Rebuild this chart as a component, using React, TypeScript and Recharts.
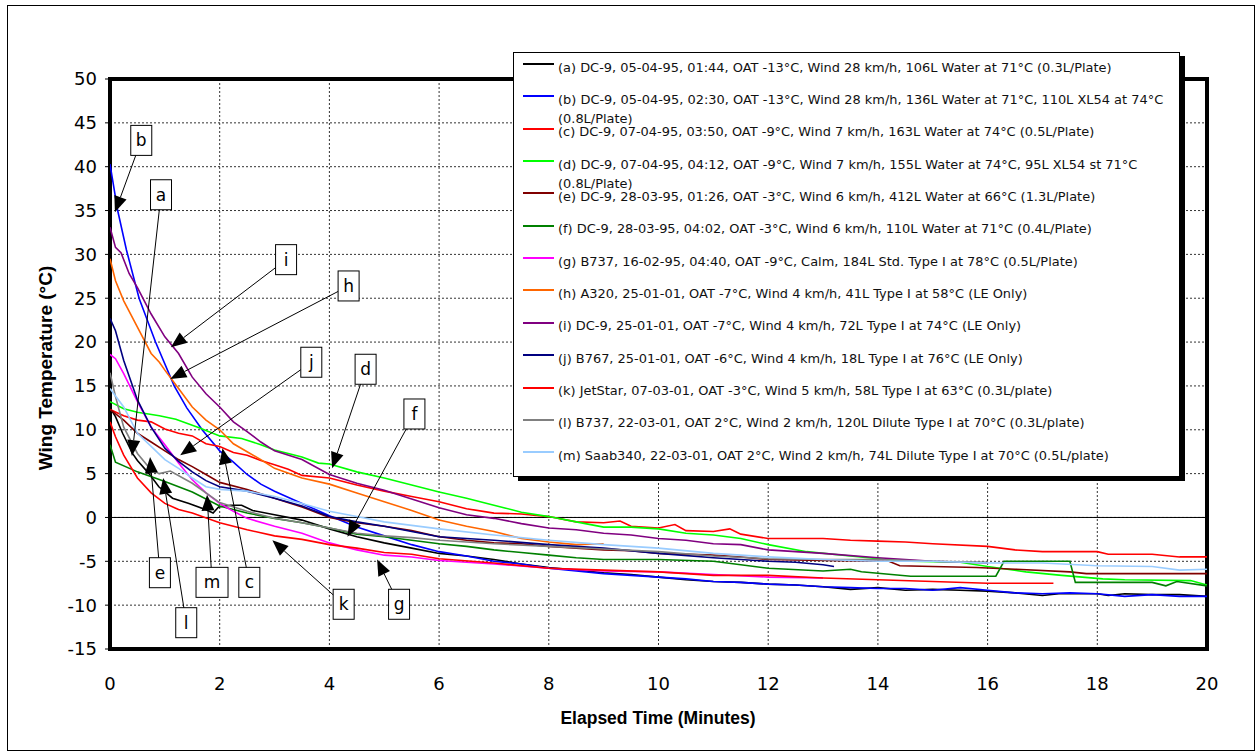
import React from 'react';
import { LineChart, Line, XAxis, YAxis, CartesianGrid, ReferenceLine, ReferenceArea } from 'recharts';

type Pt = [number, number];

// elapsed minutes, wing temperature (°C)
const seriesA: Pt[] = [
  [0, 12.5], [0.1, 11.5], [0.23, 9.6], [0.41, 7.3], [0.5, 6.5], [0.71, 5.0], [0.89, 3.5], [1.14, 2.2],
  [1.44, 1.6], [1.74, 0.9], [1.88, 0.5], [1.98, 1.2], [2.2, 1.4], [2.4, 1.4], [2.6, 0.8], [3.0, 0.3],
  [3.5, -0.3], [4.0, -1.3], [4.5, -2.2], [5.0, -2.9], [5.5, -3.5], [6.0, -4.1], [6.5, -4.4], [7.0, -4.8],
  [7.5, -5.3], [8.0, -5.7], [8.5, -6.0], [9.0, -6.3], [9.5, -6.5], [10.0, -6.8], [10.5, -7.1], [11.0, -7.3],
  [11.5, -7.4], [12.0, -7.6], [12.5, -7.7], [13.0, -7.9], [13.5, -8.2], [14.0, -8.0], [14.5, -8.3],
  [15.0, -8.2], [15.5, -8.3], [16.0, -8.4], [16.5, -8.6], [17.0, -8.9], [17.3, -8.7], [18.0, -8.7],
  [18.2, -8.9], [18.5, -8.7], [19.0, -8.8], [19.5, -8.8], [20.0, -9.0],
];
const seriesB: Pt[] = [
  [0, 40.3], [0.14, 35.0], [0.3, 30.5], [0.53, 25.0], [0.83, 20.0], [1.17, 15.0], [1.4, 12.5], [1.68, 10.0],
  [2.0, 7.6], [2.25, 6.3], [2.5, 4.9], [2.75, 3.8], [3.0, 3.0], [3.5, 1.6], [4.0, 0.2], [4.5, -1.1],
  [5.0, -2.1], [5.5, -3.1], [6.0, -3.9], [6.5, -4.4], [7.0, -5.0], [7.5, -5.3], [8.0, -5.8], [8.5, -6.1],
  [9.0, -6.4], [9.5, -6.6], [10.0, -6.8], [10.5, -7.0], [11.0, -7.3], [11.5, -7.4], [12.0, -7.6],
  [12.5, -7.7], [13.0, -7.9], [13.5, -8.0], [14.0, -8.1], [14.5, -8.1], [15.0, -8.3], [15.5, -8.0],
  [16.0, -8.3], [16.5, -8.6], [17.0, -8.7], [17.5, -8.6], [18.0, -8.7], [18.5, -9.0], [19.0, -8.8],
  [19.5, -9.0], [20.0, -9.0],
];
const seriesC: Pt[] = [
  [0, 12.3], [0.25, 11.6], [0.5, 11.1], [0.75, 10.9], [1.0, 10.1], [1.25, 9.6], [1.5, 9.3], [1.75, 8.4],
  [2.0, 8.1], [2.25, 7.4], [2.5, 7.1], [2.75, 6.5], [3.0, 6.0], [3.25, 5.5], [3.5, 4.8], [4.0, 4.5],
  [4.5, 3.7], [5.0, 3.0], [5.5, 2.4], [6.0, 1.8], [6.5, 1.0], [7.0, 0.5], [7.5, 0.4], [8.0, 0.1],
  [8.5, -0.5], [9.0, -0.6], [9.3, -0.4], [9.5, -1.0], [10.0, -1.2], [10.3, -0.8], [10.5, -1.5],
  [11.0, -1.6], [11.3, -1.3], [11.5, -1.9], [12.0, -2.4], [13.0, -2.4], [13.5, -2.6], [14.0, -2.7],
  [14.5, -2.8], [15.0, -3.0], [16.0, -3.3], [16.5, -3.7], [17.0, -3.9], [18.0, -3.9], [18.2, -4.2],
  [19.0, -4.2], [19.5, -4.5], [20.0, -4.5],
];
const seriesD: Pt[] = [
  [0, 13.2], [0.25, 12.4], [0.5, 12.0], [0.9, 11.6], [1.2, 11.2], [1.6, 10.3], [2.0, 9.3], [2.4, 9.0],
  [2.75, 8.3], [3.0, 7.7], [3.5, 6.9], [3.8, 6.2], [4.0, 6.1], [4.5, 5.2], [5.0, 4.5], [5.5, 3.7],
  [6.0, 2.9], [6.5, 2.2], [7.0, 1.4], [7.5, 0.6], [8.0, 0.1], [8.5, -0.5], [9.0, -1.1], [9.5, -1.1],
  [10.0, -1.3], [10.5, -1.8], [11.0, -2.0], [11.5, -2.4], [12.0, -3.1], [12.7, -3.9], [13.5, -4.4],
  [14.0, -4.7], [14.6, -5.0], [15.5, -5.1], [16.0, -5.6], [16.7, -6.2], [17.35, -6.6], [18.1, -7.0],
  [18.5, -7.1], [19.7, -7.2], [20.0, -7.7],
];
const seriesE: Pt[] = [
  [0, 12.3], [0.25, 11.1], [0.5, 9.6], [0.75, 8.6], [1.0, 7.6], [1.25, 6.6], [1.5, 5.8], [1.75, 4.9],
  [2.0, 4.0], [2.5, 3.2], [3.0, 2.2], [3.5, 1.2], [4.0, 0.0], [4.5, -0.6], [5.0, -1.0], [5.5, -1.5],
  [6.0, -2.2], [6.5, -2.6], [7.0, -2.9], [7.5, -3.0], [8.0, -3.3], [8.5, -3.5], [9.0, -3.7], [9.5, -3.8],
  [10.0, -4.1], [11.0, -4.3], [11.5, -4.5], [12.0, -4.8], [13.0, -4.9], [14.2, -5.0], [14.4, -5.5],
  [15.8, -5.7], [16.5, -5.9], [17.5, -6.2], [17.8, -6.4], [20.0, -6.4],
];
const seriesF: Pt[] = [
  [0, 8.3], [0.1, 6.3], [0.5, 5.2], [1.0, 4.1], [1.5, 2.9], [2.0, 1.3], [2.5, 0.5], [3.0, -0.1],
  [3.5, -0.6], [4.0, -1.2], [4.5, -1.9], [5.0, -2.2], [5.5, -2.6], [6.0, -3.0], [6.5, -3.3], [7.0, -3.7],
  [7.5, -4.0], [8.0, -4.3], [8.5, -4.6], [9.0, -4.8], [10.0, -4.8], [11.0, -5.0], [11.5, -5.4],
  [12.0, -5.8], [13.0, -6.1], [13.5, -5.9], [13.7, -6.2], [14.6, -6.7], [16.15, -6.7], [16.3, -5.0],
  [17.5, -5.0], [17.6, -7.4], [19.0, -7.4], [19.25, -7.8], [19.45, -7.3], [20.0, -7.8],
];
const seriesG: Pt[] = [
  [0, 18.6], [0.1, 18.1], [0.25, 16.4], [0.5, 13.2], [0.75, 10.3], [1.0, 8.3], [1.25, 6.2], [1.5, 4.3],
  [1.75, 2.8], [2.0, 1.6], [2.25, 0.7], [2.5, -0.1], [3.0, -1.0], [3.5, -1.8], [4.0, -2.9], [4.5, -3.7],
  [5.0, -4.3], [5.5, -4.5], [6.0, -4.9], [7.0, -5.3], [8.0, -5.8], [9.0, -6.1], [10.0, -6.2],
  [11.0, -6.5], [12.0, -6.8], [13.0, -6.9],
];
const seriesH: Pt[] = [
  [0, 29.5], [0.1, 27.0], [0.25, 24.7], [0.5, 21.7], [0.75, 18.7], [0.9, 17.7], [1.0, 16.8], [1.25, 14.7],
  [1.5, 12.6], [1.75, 11.1], [2.0, 10.0], [2.25, 8.4], [2.5, 7.5], [2.75, 6.6], [3.0, 5.6], [3.5, 4.5],
  [4.0, 3.8], [4.5, 2.8], [5.0, 1.8], [5.5, 0.8], [6.0, -0.3], [6.5, -1.0], [7.0, -1.6], [7.5, -2.4],
  [8.0, -2.8], [8.5, -3.1], [9.0, -3.0],
];
const seriesI: Pt[] = [
  [0, 33.1], [0.1, 30.8], [0.2, 30.2], [0.35, 27.8], [0.5, 26.2], [0.75, 23.2], [1.0, 20.6], [1.25, 18.7],
  [1.5, 16.0], [1.75, 14.1], [2.0, 12.6], [2.25, 10.9], [2.5, 9.8], [2.75, 8.6], [3.0, 7.6], [3.5, 6.6],
  [4.0, 4.9], [4.5, 3.9], [5.0, 3.1], [5.5, 2.1], [6.0, 1.1], [6.5, 0.3], [7.0, -0.1], [7.5, -0.7],
  [8.0, -1.2], [8.5, -1.4], [9.0, -1.8], [9.5, -2.0], [10.0, -2.4], [10.5, -2.6], [11.0, -3.0],
  [11.5, -3.1], [12.0, -3.7], [12.5, -3.9], [13.0, -4.1], [14.0, -4.6], [15.0, -5.0], [16.0, -5.2],
];
const seriesJ: Pt[] = [
  [0, 22.7], [0.1, 21.3], [0.25, 17.9], [0.5, 13.4], [0.75, 10.3], [1.0, 7.9], [1.25, 6.4], [1.5, 5.2],
  [1.75, 4.2], [2.0, 3.5], [2.5, 3.0], [3.0, 2.2], [3.5, 1.3], [4.0, 0.1], [4.5, -0.5], [5.0, -1.0],
  [5.5, -1.6], [6.0, -2.2], [7.0, -2.6], [8.0, -3.1], [9.0, -3.5], [10.0, -4.1], [11.0, -4.6],
  [12.0, -5.0], [12.5, -5.1], [13.0, -5.4], [13.2, -5.6],
];
const seriesK: Pt[] = [
  [0, 10.9], [0.1, 9.2], [0.25, 7.1], [0.5, 4.5], [0.75, 2.8], [1.0, 1.6], [1.25, 0.9], [1.5, 0.5],
  [2.0, -0.6], [2.5, -1.4], [3.0, -2.1], [3.5, -2.5], [4.0, -3.1], [4.5, -3.5], [5.0, -4.0], [5.5, -4.2],
  [6.0, -4.7], [7.0, -5.2], [8.0, -5.8], [9.0, -6.0], [10.0, -6.2], [11.0, -6.6], [12.0, -6.6],
  [13.0, -6.9], [14.0, -7.1], [15.0, -7.3], [16.0, -7.5], [17.2, -7.5],
];
const seriesL: Pt[] = [
  [0, 16.5], [0.1, 13.8], [0.25, 10.3], [0.5, 7.3], [0.75, 5.4], [0.9, 5.0], [1.1, 5.3], [1.5, 3.9],
  [2.0, 1.7], [2.5, 0.7], [3.0, -0.1], [3.5, -0.6], [4.0, -1.2], [4.5, -1.8], [5.0, -2.1], [5.5, -2.3],
  [6.0, -2.6], [7.0, -3.0], [8.0, -3.3], [9.0, -3.6], [10.0, -3.9], [11.0, -4.4], [12.0, -4.7],
  [13.0, -4.8], [14.0, -4.8], [15.0, -5.0], [16.0, -5.1],
];
const seriesM: Pt[] = [
  [0, 14.7], [0.25, 12.6], [0.5, 9.6], [0.75, 8.1], [1.0, 6.6], [1.25, 5.6], [1.5, 4.5], [1.75, 3.5],
  [2.0, 3.2], [2.5, 3.0], [3.0, 2.4], [3.5, 1.6], [4.0, 0.7], [4.5, 0.1], [5.0, -0.5], [5.5, -0.9],
  [6.0, -1.3], [7.0, -2.0], [8.0, -2.6], [9.0, -3.1], [10.0, -3.5], [11.0, -4.1], [12.0, -4.5],
  [13.0, -4.8], [14.0, -5.0], [15.0, -5.0], [16.0, -5.2], [17.0, -5.2], [18.0, -5.5], [19.0, -5.6],
  [19.5, -6.0], [20.0, -5.9],
];

const seriesData = [seriesA, seriesB, seriesC, seriesD, seriesE, seriesF, seriesG, seriesH, seriesI, seriesJ, seriesK, seriesL, seriesM];
const seriesColors = ['#000000', '#0000FF', '#FF0000', '#00FF00', '#800000', '#008000', '#FF00FF', '#FF6600', '#800080', '#000080', '#FF0000', '#808080', '#99CCFF'];
const legendLabels = [
  '(a) DC-9, 05-04-95, 01:44, OAT -13°C, Wind 28 km/h, 106L Water at 71°C (0.3L/Plate)',
  '(b) DC-9, 05-04-95, 02:30, OAT -13°C, Wind 28 km/h, 136L Water at 71°C, 110L XL54 at 74°C\n(0.8L/Plate)',
  '(c) DC-9, 07-04-95, 03:50, OAT -9°C, Wind 7 km/h, 163L Water at 74°C (0.5L/Plate)',
  '(d) DC-9, 07-04-95, 04:12, OAT -9°C, Wind 7 km/h, 155L Water at 74°C, 95L XL54 st 71°C\n(0.8L/Plate)',
  '(e) DC-9, 28-03-95, 01:26, OAT -3°C, Wind 6 km/h, 412L Water at 66°C (1.3L/Plate)',
  '(f) DC-9, 28-03-95, 04:02, OAT -3°C, Wind 6 km/h, 110L Water at 71°C (0.4L/Plate)',
  '(g) B737, 16-02-95, 04:40, OAT -9°C, Calm, 184L Std. Type I at 78°C (0.5L/Plate)',
  '(h) A320, 25-01-01, OAT -7°C, Wind 4 km/h, 41L Type I at 58°C (LE Only)',
  '(i) DC-9, 25-01-01, OAT -7°C, Wind 4 km/h, 72L Type I at 74°C (LE Only)',
  '(j) B767, 25-01-01, OAT -6°C, Wind 4 km/h, 18L Type I at 76°C (LE Only)',
  '(k) JetStar, 07-03-01, OAT -3°C, Wind 5 km/h, 58L Type I at 63°C (0.3L/plate)',
  '(l) B737, 22-03-01, OAT 2°C, Wind 2 km/h, 120L Dilute Type I at 70°C (0.3L/plate)',
  '(m) Saab340, 22-03-01, OAT 2°C, Wind 2 km/h, 74L Dilute Type I at 70°C (0.5L/plate)',
];
const xTicks = [0, 2, 4, 6, 8, 10, 12, 14, 16, 18, 20];
const yTicks = [-15, -10, -5, 0, 5, 10, 15, 20, 25, 30, 35, 40, 45, 50];

// callout letter boxes: box centre and arrow tip, in (minutes, °C)
const callouts = [
  { label: 'b', box: [0.57, 43.0], tip: [0.09, 34.8] },
  { label: 'a', box: [0.93, 36.8], tip: [0.4, 7.0] },
  { label: 'i', box: [3.21, 29.4], tip: [1.11, 19.4] },
  { label: 'h', box: [4.35, 26.4], tip: [1.1, 15.8] },
  { label: 'j', box: [3.67, 17.7], tip: [1.28, 7.1] },
  { label: 'd', box: [4.66, 16.9], tip: [4.05, 5.6] },
  { label: 'f', box: [5.55, 11.8], tip: [4.33, -2.2] },
  { label: 'e', box: [0.91, -6.3], tip: [0.73, 6.9] },
  { label: 'l', box: [1.39, -12.0], tip: [0.97, 4.5] },
  { label: 'm', box: [1.86, -7.4], tip: [1.77, 2.6] },
  { label: 'c', box: [2.54, -7.4], tip: [2.05, 7.9] },
  { label: 'k', box: [4.26, -9.9], tip: [2.96, -2.6] },
  { label: 'g', box: [5.27, -9.9], tip: [4.87, -4.8] },
];

const Callout = (props: any) => {
  const { x1, y1, x2, y2, label } = props;
  const dx = x2 - x1;
  const dy = y2 - y1;
  const len = Math.hypot(dx, dy) || 1;
  const ux = dx / len;
  const uy = dy / len;
  const ah = 16;
  const aw = 6.5;
  const bx = x2 - ux * ah;
  const by = y2 - uy * ah;
  const w = label === 'm' ? 32 : 21;
  const h = 30;
  return (
    <g>
      <line x1={x1} y1={y1} x2={bx} y2={by} stroke="#000" strokeWidth={1} />
      <polygon points={`${x2},${y2} ${bx - uy * aw},${by + ux * aw} ${bx + uy * aw},${by - ux * aw}`} fill="#000" />
      <rect x={x1 - w / 2} y={y1 - h / 2} width={w} height={h} fill="#fff" stroke="#000" strokeWidth={1} />
      <text x={x1} y={y1 + 6} textAnchor="middle" fontSize={17} fontFamily="DejaVu Sans, sans-serif" fill="#000">
        {label}
      </text>
    </g>
  );
};

const Legend = () => (
  <div
    style={{
      position: 'absolute', left: 513, top: 52, width: 667, height: 425, boxSizing: 'border-box',
      border: '1px solid #000', background: '#fff', boxShadow: '5px 4px 0 #000',
      fontFamily: 'DejaVu Sans, sans-serif', fontSize: 12.95, color: '#111',
    }}
  >
    {legendLabels.map((lab, i) => {
      const cy = 14 + i * 32.35;
      return (
        <React.Fragment key={i}>
          <div style={{ position: 'absolute', left: 9, top: cy - 4, width: 31, height: 2, background: seriesColors[i] }} />
          <div style={{ position: 'absolute', left: 44, top: cy - 9.5, lineHeight: '19px', whiteSpace: 'pre' }}>{lab}</div>
        </React.Fragment>
      );
    })}
  </div>
);

export default function App() {
  return (
    <div style={{ position: 'absolute', left: 0, top: 0, width: 1257, height: 752, overflow: 'hidden', background: '#fff' }}>
      <div style={{ position: 'absolute', left: 7, top: 5, width: 1248, height: 746, border: '1px solid #000', boxSizing: 'border-box' }} />
      <LineChart width={1257} height={752} margin={{ top: 79, right: 50, bottom: 63, left: 50 }}>
        <CartesianGrid stroke="#333" strokeDasharray="2 2" />
        <XAxis
          dataKey="t" type="number" domain={[0, 20]} ticks={xTicks} allowDataOverflow
          axisLine={false} tickLine={false} tickSize={0} tickMargin={28} height={40}
          tick={{ fill: '#000', fontSize: 18, fontFamily: 'DejaVu Sans, sans-serif' }}
        />
        <YAxis
          type="number" domain={[-15, 50]} ticks={yTicks} allowDataOverflow
          axisLine={false} tickLine={{ stroke: '#000' }} tickSize={5} tickMargin={8} width={60}
          tick={{ fill: '#000', fontSize: 18, fontFamily: 'DejaVu Sans, sans-serif' }}
        />
        <ReferenceLine y={0} stroke="#000" strokeWidth={1} />
        {seriesData.map((s, i) => (
          <Line
            key={i} data={s.map(([t, v]) => ({ t, v }))} dataKey="v" type="linear"
            stroke={seriesColors[i]} strokeWidth={1.6} dot={false} activeDot={false} isAnimationActive={false}
          />
        ))}
        {callouts.map((c) => (
          <ReferenceLine
            key={c.label} ifOverflow="visible"
            segment={[{ x: c.box[0], y: c.box[1] }, { x: c.tip[0], y: c.tip[1] }]}
            shape={(p: any) => <Callout {...p} label={c.label} />}
          />
        ))}
        <ReferenceArea x1={0} x2={20} y1={-15} y2={50} fill="none" stroke="#000" strokeWidth={4} ifOverflow="visible" />
      </LineChart>
      <Legend />
      <div
        style={{
          position: 'absolute', left: 46, top: 368, transform: 'translate(-50%, -50%) rotate(-90deg)',
          whiteSpace: 'nowrap', fontFamily: 'Liberation Sans, Arial, sans-serif', fontWeight: 'bold', fontSize: 19,
        }}
      >
        Wing Temperature (°C)
      </div>
      <div
        style={{
          position: 'absolute', left: 658, top: 718, transform: 'translate(-50%, -50%)',
          whiteSpace: 'nowrap', fontFamily: 'Liberation Sans, Arial, sans-serif', fontWeight: 'bold', fontSize: 17.5,
        }}
      >
        Elapsed Time (Minutes)
      </div>
    </div>
  );
}
